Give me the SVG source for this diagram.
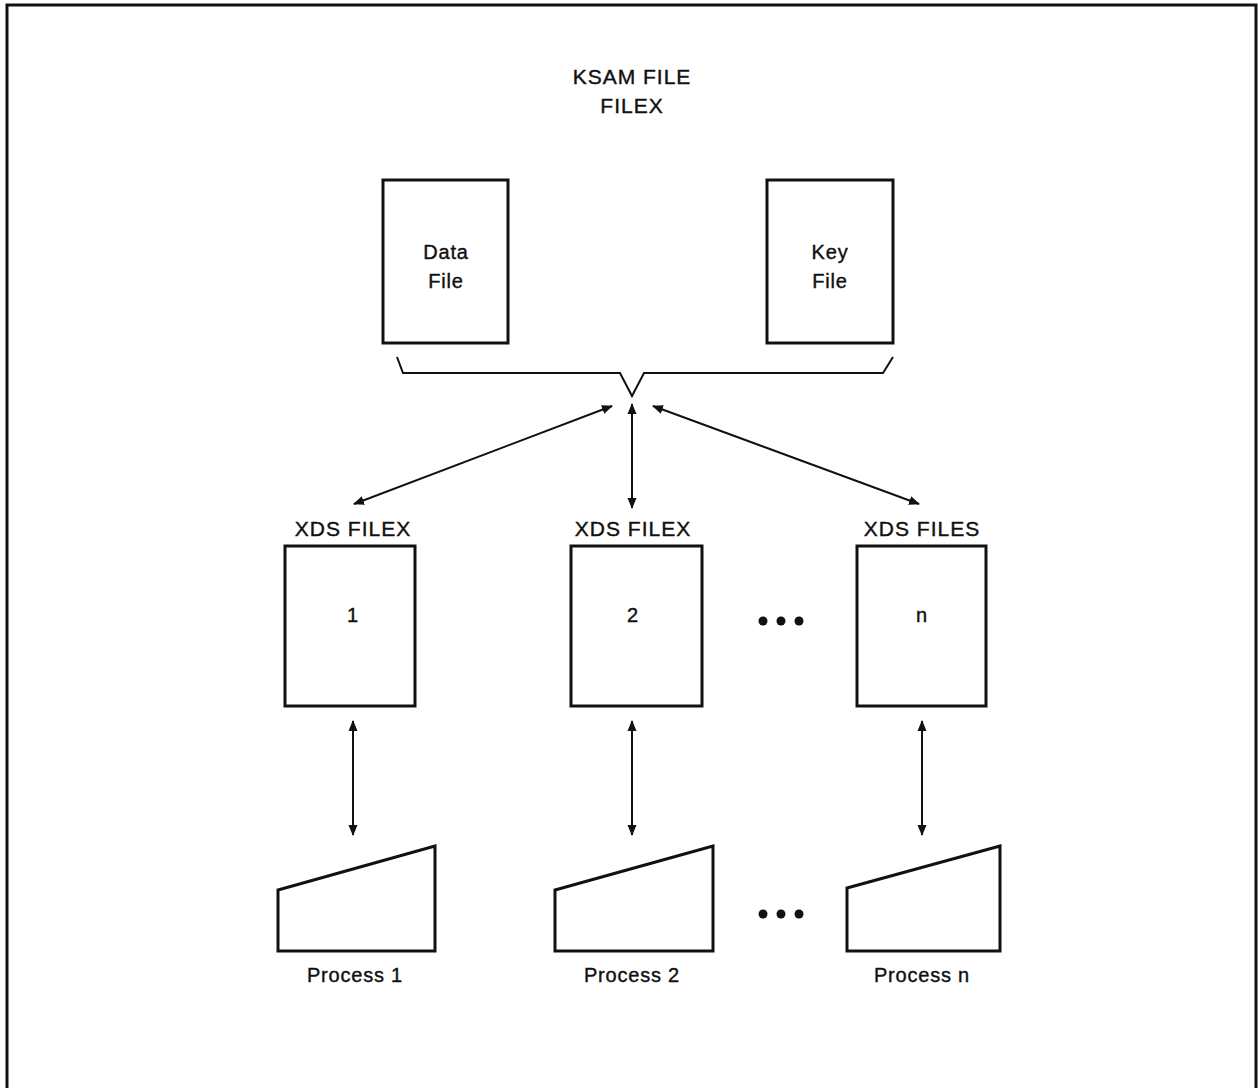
<svg xmlns="http://www.w3.org/2000/svg" width="1258" height="1088" viewBox="0 0 1258 1088">
<style>
  text { font-family: "Liberation Sans", Arial, sans-serif; fill: #111; text-anchor: middle; stroke: #111; stroke-width: 0.4; }
  .t { font-size: 21px; letter-spacing: 1px; }
  .s { font-size: 20px; letter-spacing: 0.8px; }
  .box { fill: #fff; stroke: #111; stroke-width: 3; }
  .ln { fill: none; stroke: #111; stroke-width: 2; }
</style>
<defs>
  <marker id="ah" viewBox="0 0 11 10" refX="10" refY="5" markerWidth="11" markerHeight="10" orient="auto-start-reverse" markerUnits="userSpaceOnUse">
    <path d="M0,0.5 L11,5 L0,9.5 z" fill="#111"/>
  </marker>
</defs>
<rect width="1258" height="1088" fill="#fff"/>
<path d="M7,1088 V5 H1256 V1088" fill="none" stroke="#111" stroke-width="3"/>

<g id="title">
  <text class="t" x="632" y="84">KSAM FILE</text>
  <text class="t" x="632" y="113">FILEX</text>
</g>
<g id="data-file">
  <rect class="box" x="383" y="180" width="125" height="163"/>
  <text class="s" x="446" y="259">Data</text>
  <text class="s" x="446" y="288">File</text>
</g>
<g id="key-file">
  <rect class="box" x="767" y="180" width="126" height="163"/>
  <text class="s" x="830" y="259">Key</text>
  <text class="s" x="830" y="288">File</text>
</g>
<g id="bracket">
  <path class="ln" d="M397,357 L403,373 H620 L632,396 L644,373 H883 L893,357"/>
</g>
<g id="xds1">
  <text class="t" x="353" y="536">XDS FILEX</text>
  <rect class="box" x="285" y="546" width="130" height="160"/>
  <text class="s" x="353" y="622">1</text>
</g>
<g id="xds2">
  <text class="t" x="633" y="536">XDS FILEX</text>
  <rect class="box" x="571" y="546" width="131" height="160"/>
  <text class="s" x="633" y="622">2</text>
</g>
<g id="xdsn">
  <text class="t" x="922" y="536">XDS FILES</text>
  <rect class="box" x="857" y="546" width="129" height="160"/>
  <text class="s" x="922" y="622">n</text>
</g>
<g id="dots-top" fill="#111">
  <circle cx="763" cy="621" r="4.5"/>
  <circle cx="781" cy="621" r="4.5"/>
  <circle cx="799" cy="621" r="4.5"/>
</g>
<g id="proc1">
  <path class="box" d="M278,890 L435,846 V951 H278 Z"/>
  <text class="s" x="355" y="982">Process 1</text>
</g>
<g id="proc2">
  <path class="box" d="M555,890 L713,846 V951 H555 Z"/>
  <text class="s" x="632" y="982">Process 2</text>
</g>
<g id="procn">
  <path class="box" d="M847,888 L1000,846 V951 H847 Z"/>
  <text class="s" x="922" y="982">Process n</text>
</g>
<g id="dots-bottom" fill="#111">
  <circle cx="763" cy="914" r="4.5"/>
  <circle cx="781" cy="914" r="4.5"/>
  <circle cx="799" cy="914" r="4.5"/>
</g>
<g id="connectors">
  <line class="ln" x1="612" y1="406" x2="354" y2="504" marker-start="url(#ah)" marker-end="url(#ah)"/>
  <line class="ln" x1="632" y1="404" x2="632" y2="508" marker-start="url(#ah)" marker-end="url(#ah)"/>
  <line class="ln" x1="653" y1="406" x2="919" y2="504" marker-start="url(#ah)" marker-end="url(#ah)"/>
  <line class="ln" x1="353" y1="721" x2="353" y2="835" marker-start="url(#ah)" marker-end="url(#ah)"/>
  <line class="ln" x1="632" y1="721" x2="632" y2="835" marker-start="url(#ah)" marker-end="url(#ah)"/>
  <line class="ln" x1="922" y1="721" x2="922" y2="835" marker-start="url(#ah)" marker-end="url(#ah)"/>
</g>
</svg>
